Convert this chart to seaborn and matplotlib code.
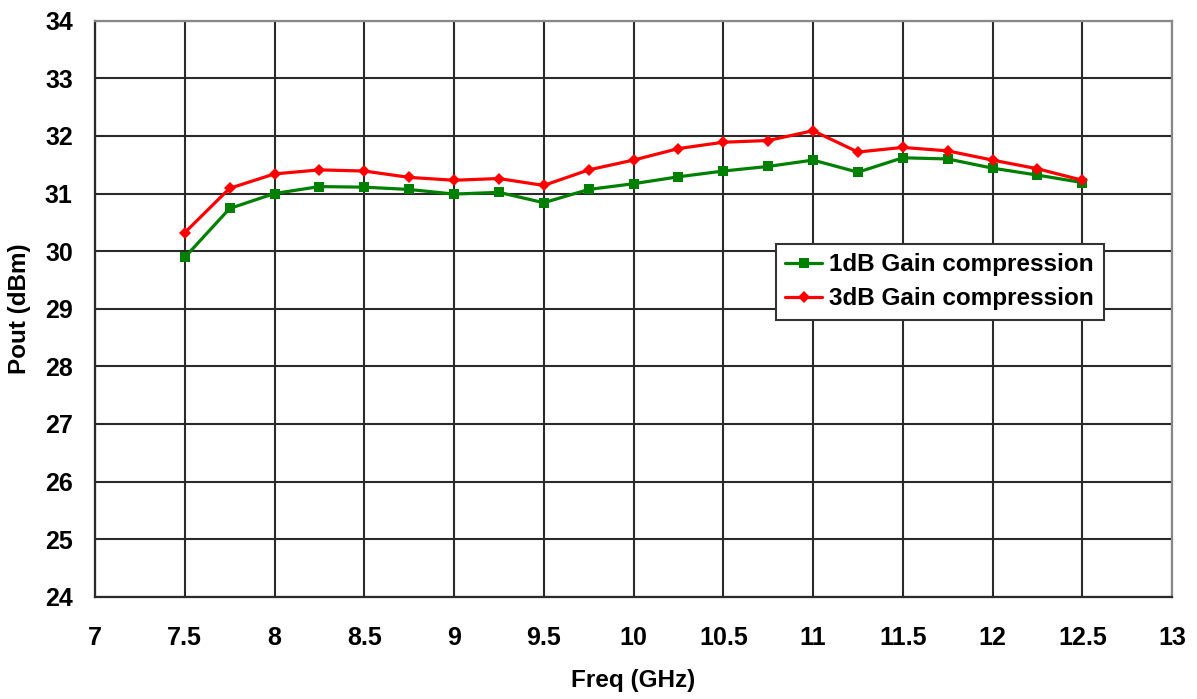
import matplotlib
matplotlib.use("Agg")
import matplotlib.pyplot as plt
import seaborn as sns
import pandas as pd

freq = [7.5, 7.75, 8.0, 8.25, 8.5, 8.75, 9.0, 9.25, 9.5, 9.75, 10.0, 10.25,
        10.5, 10.75, 11.0, 11.25, 11.5, 11.75, 12.0, 12.25, 12.5]
p1db = [29.89, 30.74, 31.00, 31.12, 31.11, 31.07, 30.99, 31.02, 30.84, 31.07, 31.17, 31.29,
        31.39, 31.47, 31.58, 31.37, 31.62, 31.60, 31.44, 31.32, 31.19]
p3db = [30.32, 31.09, 31.34, 31.41, 31.39, 31.28, 31.23, 31.26, 31.14, 31.41, 31.58, 31.78,
        31.89, 31.92, 32.09, 31.72, 31.80, 31.74, 31.58, 31.43, 31.23]
label1 = "1dB Gain compression"
label3 = "3dB Gain compression"
xticks = [7, 7.5, 8, 8.5, 9, 9.5, 10, 10.5, 11, 11.5, 12, 12.5, 13]
xticklabels = ["7", "7.5", "8", "8.5", "9", "9.5", "10", "10.5", "11", "11.5", "12", "12.5", "13"]
yticks = list(range(24, 35))

sns.set_theme(style="white")
plt.rcParams['font.family'] = ['Liberation Sans', 'DejaVu Sans']
plt.rcParams['font.weight'] = 'bold'
plt.rcParams['text.color'] = 'black'

fig = plt.figure(figsize=(11.97, 6.99), dpi=100)
ax = fig.add_axes([95/1197, 1 - 596.7/699, (1172-95)/1197, (596.7-20.7)/699])

df1 = pd.DataFrame({"freq": freq, "pout": p1db})
df3 = pd.DataFrame({"freq": freq, "pout": p3db})
sns.lineplot(data=df1, x="freq", y="pout", ax=ax, color="#008000", linewidth=2.3,
             marker="s", markersize=7, markeredgewidth=0, label=label1)
sns.lineplot(data=df3, x="freq", y="pout", ax=ax, color="#FF0000", linewidth=2.3,
             marker="D", markersize=6.5, markeredgewidth=0, label=label3)

ax.set_xlim(7, 13)
ax.set_ylim(24, 34)
ax.set_xticks(xticks)
ax.set_xticklabels(xticklabels)
ax.set_yticks(yticks)
ax.grid(True, color="#2a2a2a", linewidth=1.5)
ax.set_axisbelow(True)
for s in ax.spines.values():
    s.set_color("#2a2a2a")
    s.set_linewidth(1.6)
ax.spines['top'].set_color("#888888")
ax.spines['right'].set_color("#888888")
ax.tick_params(axis='both', length=0, labelsize=18, labelcolor='black')
ax.tick_params(axis='x', pad=21)
ax.tick_params(axis='y', pad=16)
for t in ax.get_xticklabels() + ax.get_yticklabels():
    t.set_fontweight('bold')
ax.set_xlabel("Freq (GHz)", fontsize=17.5, fontweight='bold', labelpad=14, color='black')
ax.set_ylabel("Pout (dBm)", fontsize=17.5, fontweight='bold', labelpad=10, color='black')

leg = ax.legend(loc="upper left", bbox_to_anchor=(0.632, 0.613), fontsize=17.5,
                frameon=True, fancybox=False, edgecolor="#333333", framealpha=1,
                handlelength=1.5, borderpad=0.4, labelspacing=0.45, handletextpad=0.3,
                borderaxespad=0)
leg.get_frame().set_linewidth(1.5)
for t in leg.get_texts():
    t.set_fontweight('bold')
    t.set_color('black')

fig.savefig("out.png", dpi=100)
